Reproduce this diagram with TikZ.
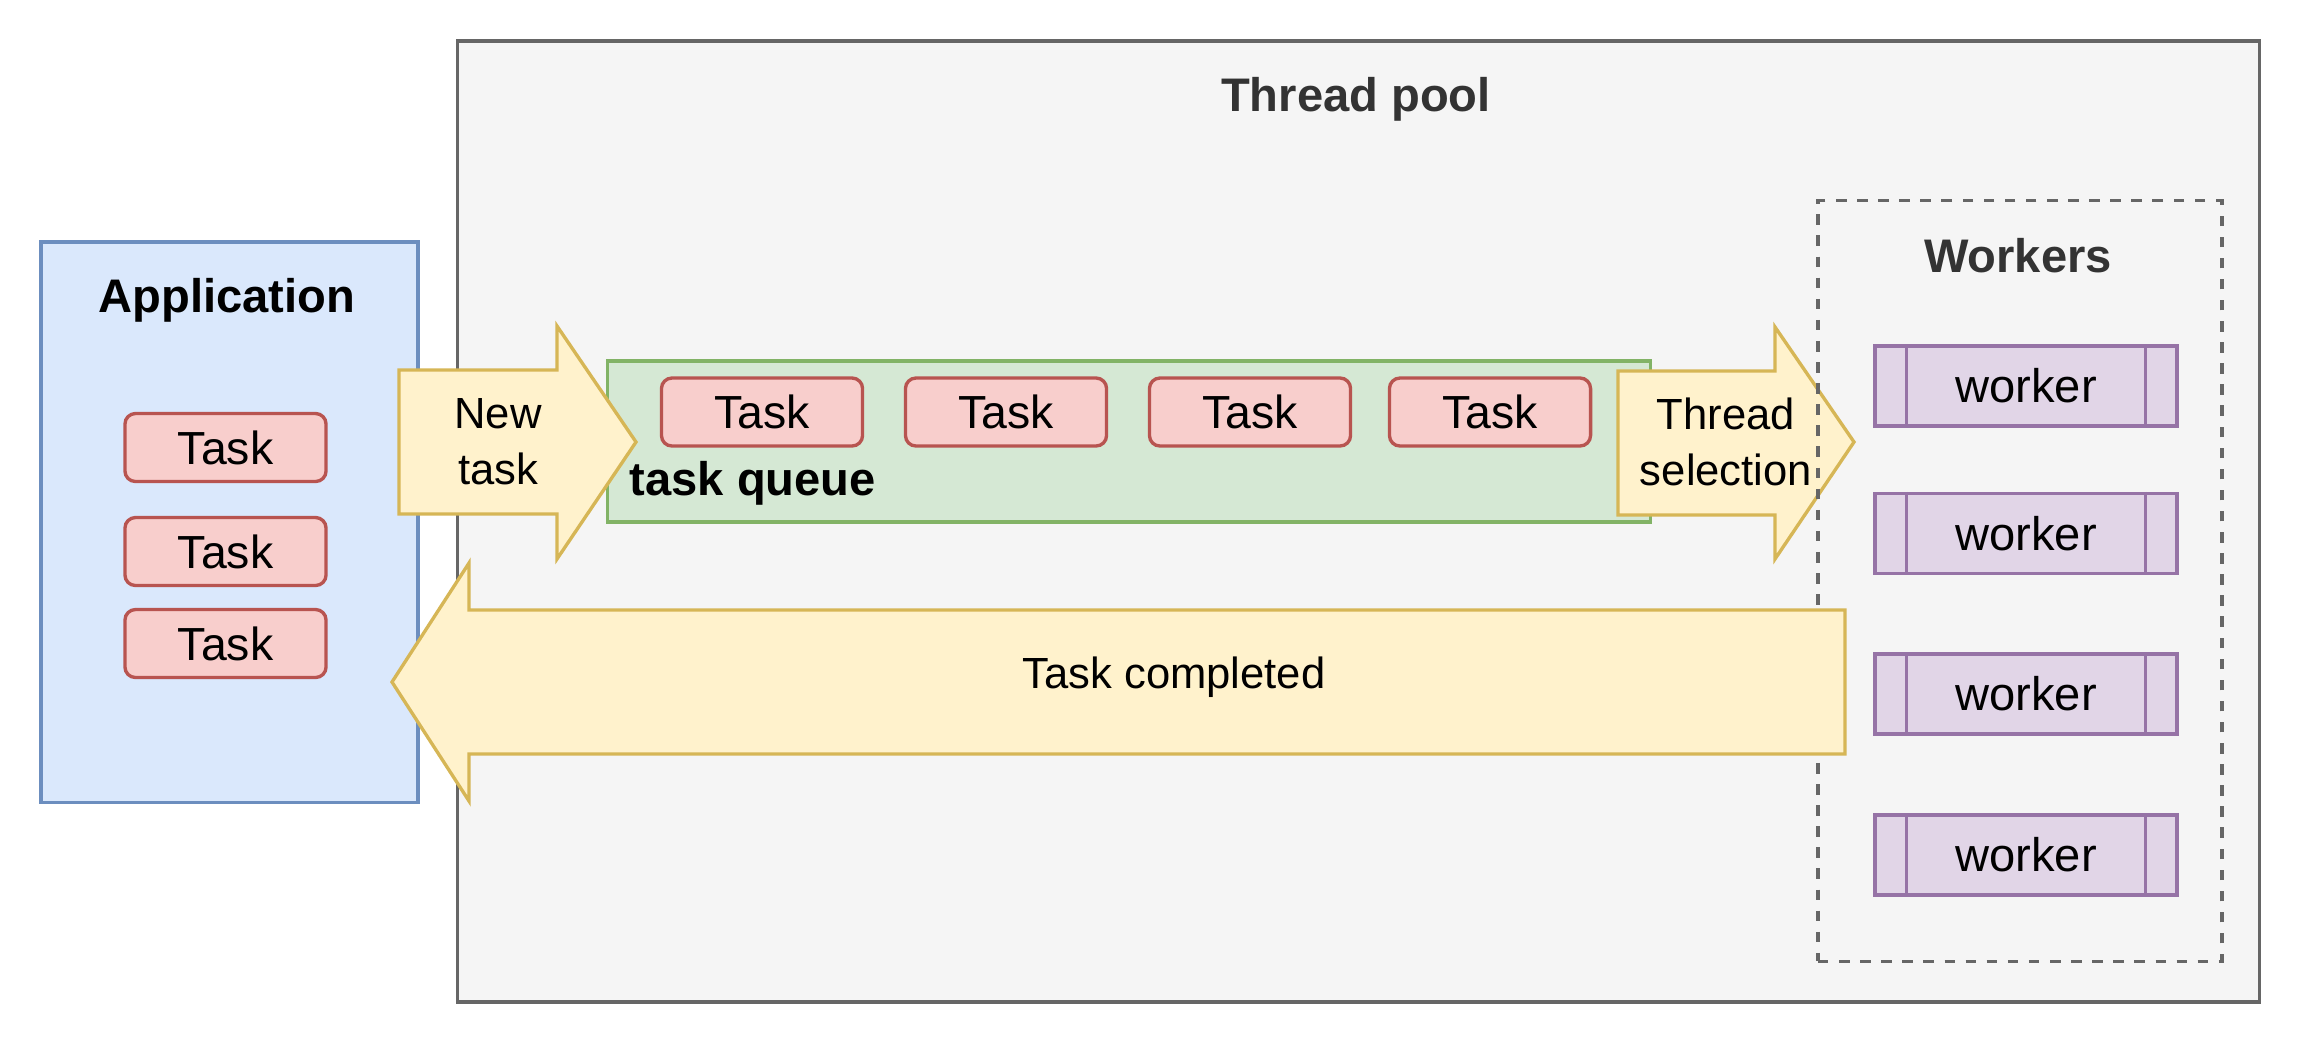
\documentclass[tikz,border=0pt]{standalone}
\usepackage{fontspec}
\setmainfont{Liberation Sans}
\usetikzlibrary{positioning}

\definecolor{poolfill}{HTML}{F5F5F5}
\definecolor{poolline}{HTML}{666666}
\definecolor{titlegray}{HTML}{333333}
\definecolor{appfill}{HTML}{DAE8FC}
\definecolor{appline}{HTML}{6C8EBF}
\definecolor{taskfill}{HTML}{F8CECC}
\definecolor{taskline}{HTML}{B85450}
\definecolor{queuefill}{HTML}{D5E8D4}
\definecolor{queueline}{HTML}{82B366}
\definecolor{arrowfill}{HTML}{FFF2CC}
\definecolor{arrowline}{HTML}{D6B656}
\definecolor{workerfill}{HTML}{E1D5E7}
\definecolor{workerline}{HTML}{9673A6}

\tikzset{
  plainbox/.style={line width=0.95pt, inner sep=0pt},
  taskbox/.style={plainbox, draw=taskline, fill=taskfill, rounded corners=3pt,
    minimum width=2.01cm, minimum height=0.68cm, font=\fontsize{13.2pt}{16pt}\selectfont},
  workerbox/.style={plainbox, draw=workerline, fill=workerfill,
    minimum width=3.02cm, minimum height=0.80cm, font=\fontsize{13.4pt}{16pt}\selectfont},
  bigarrow/.style={line width=0.95pt, draw=arrowline, fill=arrowfill},
  title/.style={anchor=base, font=\fontsize{13.4pt}{16pt}\selectfont\bfseries},
  smalltext/.style={anchor=base, align=center, inner sep=0pt,
    font=\fontsize{12.4pt}{15.9pt}\selectfont},
}

\begin{document}
\begin{tikzpicture}[x=0.01cm,y=-0.01cm]
  \useasboundingbox (0,0) rectangle (2300,1044);

  % thread pool
  \node[draw=poolline, fill=poolfill, line width=1.1pt, inner sep=0pt,
    minimum width=18.01cm, minimum height=9.61cm] (pool) at (1358.5,521.5) {};
  \node[title, text=titlegray] (pooltitle) at (1356,111) {Thread pool};

  % application
  \node[plainbox, draw=appline, fill=appfill, minimum width=3.77cm, minimum height=5.60cm] (app) at (229.5,522) {};
  \node[title] (apptitle) at (227,312) {Application};
  \node[taskbox] (apptask1) at (225.5,447.5) {Task};
  \node[taskbox] (apptask2) at (225.5,551.5) {Task};
  \node[taskbox] (apptask3) at (225.5,643.5) {Task};

  % task queue
  \node[plainbox, draw=queueline, fill=queuefill, minimum width=10.42cm, minimum height=1.61cm] (queue) at (1129,441.5) {};
  \node[title, anchor=base west, inner sep=0pt] (queuetitle) at (629,495) {task queue};
  \foreach \x [count=\i] in {762,1006,1250,1490}
    \node[taskbox] (qtask\i) at (\x,412) {Task};

  % new task / thread selection
  \draw[bigarrow] (399,370) -- (557,370) -- (557,326) -- (636,442) -- (557,559) -- (557,514) -- (399,514) -- cycle;
  \node[smalltext] (newtask) at (498,484) {New\\task};
  \draw[bigarrow] (1618,371) -- (1775,371) -- (1775,327) -- (1854,442) -- (1775,559) -- (1775,515) -- (1618,515) -- cycle;
  \node[smalltext] (threadsel) at (1726,485) {Thread\\selection};

  % workers
  \node[draw=poolline, line width=0.95pt, dash pattern=on 3pt off 3pt, inner sep=0pt,
    minimum width=4.04cm, minimum height=7.60cm] (workers) at (2020,581) {};
  \node[title, text=titlegray] (workerstitle) at (2018,272) {Workers};
  \foreach \y [count=\i] in {386,533.5,694,855} {
    \node[workerbox] (worker\i) at (2026,\y) {worker};
    \draw[workerline, line width=0.95pt] ([xshift=0.33cm]worker\i.north west) -- ([xshift=0.33cm]worker\i.south west);
    \draw[workerline, line width=0.95pt] ([xshift=-0.33cm]worker\i.north east) -- ([xshift=-0.33cm]worker\i.south east);
  }

  % task completed
  \draw[bigarrow] (1845,610) -- (469,610) -- (469,563) -- (392,682) -- (469,801) -- (469,754) -- (1845,754) -- cycle;
  \node[smalltext] (done) at (1174,688) {Task completed};
\end{tikzpicture}
\end{document}
